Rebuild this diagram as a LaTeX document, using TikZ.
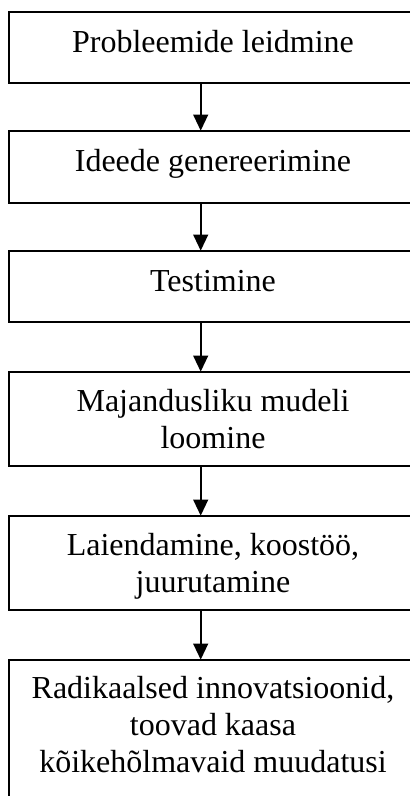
\documentclass[tikz,border=0pt]{standalone}
\usepackage{fontspec}
\setmainfont{Liberation Serif}
\usetikzlibrary{arrows.meta}
\begin{document}
\begin{tikzpicture}[x=0.75pt,y=-0.75pt,
  stepbox/.style={draw,line width=1.5pt,rectangle,inner sep=0pt,minimum width=306.75pt},
  steptext/.style={anchor=base,align=center,inner sep=0pt,font=\fontsize{24pt}{27.75pt}\selectfont},
  flow/.style={line width=1.5pt,-{Triangle[length=12pt,width=11pt]},shorten >=-0.5pt}]
\useasboundingbox (0,0) rectangle (410,796);
% boxes: centre y and height in px
\node[stepbox,minimum height=53.25pt] (b1) at (213,47.5) {};
\node[stepbox,minimum height=54pt] (b2) at (213,167) {};
\node[stepbox,minimum height=53.25pt] (b3) at (213,286.5) {};
\node[stepbox,minimum height=70.5pt] (b4) at (213,419) {};
\node[stepbox,minimum height=70.5pt] (b5) at (213,563) {};
\node[stepbox,minimum height=127.5pt] (b6) at (213,745) {};
% labels, placed by the baseline of their last line
\node[steptext] (t1) at (213,52) {Probleemide leidmine};
\node[steptext] (t2) at (213,171) {Ideede genereerimine};
\node[steptext] (t3) at (213,291) {Testimine};
\node[steptext] (t4) at (213,448.5) {Majandusliku mudeli\\loomine};
\node[steptext] (t5) at (213,592) {Laiendamine, koostöö,\\juurutamine};
\node[steptext] (t6) at (213,772.5) {Radikaalsed innovatsioonid,\\toovad kaasa\\kõikehõlmavaid muudatusi};
% connectors
\coordinate (ax) at (200.7,0);
\draw[flow] (b1.south -| ax) -- (b2.north -| ax);
\draw[flow] (b2.south -| ax) -- (b3.north -| ax);
\draw[flow] (b3.south -| ax) -- (b4.north -| ax);
\draw[flow] (b4.south -| ax) -- (b5.north -| ax);
\draw[flow] (b5.south -| ax) -- (b6.north -| ax);
\end{tikzpicture}
\end{document}
